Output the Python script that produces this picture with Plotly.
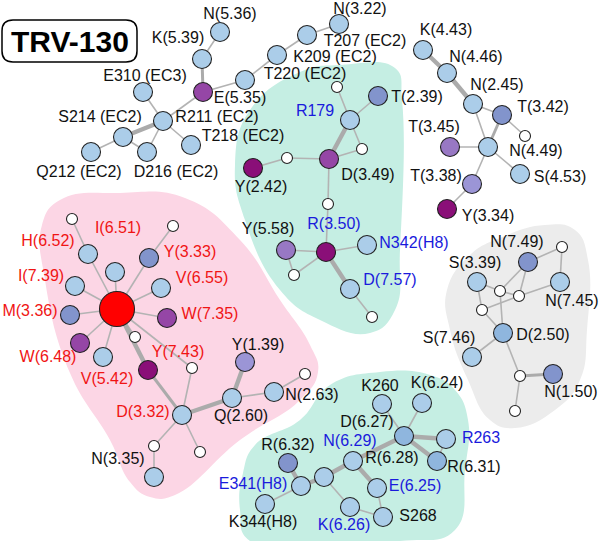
import plotly.graph_objects as go

# ---------------- nodes ----------------
node_id = ["n536","k539","e535","t220","k209","t207","n322","e310","r211","s214","q212","d216","t218",
           "y242","w1","d349","w2","r179","w3","t239","w4","r350","y558","w5","n342","d757","w6",
           "k443","n446","n245","t342","w7","c1","t345","s453","t338","y334",
           "red","w8","h652","i651","w9","y333","i739","v655","m336","w735","w648","w10","v542","y743","w11",
           "d332","q260","y139","n263","w12","w13","w14","n335",
           "n749","w15","s339","n745","gA","gB","gC","d250","s746","gD","n150","gE",
           "k260","k624","d627","r263","r631","r628","bx","r632","e341","k344","e625","k626","s268"]
node_x = [220,202,203,245,277,307,339,143,163,123,91,147,191,
          253,287,329,362,350,337,378,328,326,286,294,367,350,372,
          423,447,473,502,525,488,450,520,472,447,
          117,72,88,115,173,149,75,161,70,167,80,135,103,148,192,
          182,232,245,274,305,154,200,154,
          528,562,477,560,500,519,482,503,472,520,553,515,
          382,422,404,446,437,353,324,288,301,265,377,350,383]
node_y = [32,59,92,80,55,35,24,92,121,137,152,152,145,
          168,158,159,149,120,87,96,204,252,250,275,245,289,317,
          50,73,104,115,136,147,147,174,184,209,
          309,219,254,272,226,258,286,288,315,318,343,337,357,370,368,
          415,398,362,392,374,446,452,477,
          262,247,282,282,291,296,310,333,357,376,374,411,
          404,403,436,439,461,461,477,463,486,504,488,507,517]
node_kind = ["lb","lb","pu","lb","lb","lb","lb","lb","lb","lb","lb","lb","lb",
             "dk","wh","pu","wh","lb","wh","mb","wh","dk","lp","wh","lb","lb","wh",
             "lb","lb","lb","mb","wh","lb","lp","lb","lv","dk",
             "red","wh","lb","lb","wh","mb","lb","lb","mb","pu","pu","wh","lb","dk","wh",
             "lb","lb","lv","lb","wh","wh","wh","lb",
             "mb","wh","lb","lb","wh","wh","wh","bl","lb","wh","mb","wh",
             "lb","lb","bl","lb","bl","lb","lb","mb","lb","lb","lb","lb","lb"]

kind_color = {"lb": "#abcde9", "bl": "#8fb6de", "mb": "#8294cc", "lv": "#9b95d6", "lp": "#9878c4",
              "pu": "#9546a6", "dk": "#8a0f78", "wh": "#ffffff", "red": "#ff0000"}
kind_size = {"lb": 19, "bl": 19, "mb": 19, "lv": 19, "lp": 19, "pu": 19, "dk": 19, "wh": 11, "red": 35}

# ---------------- edges ----------------
edge_src = ["n536","k539","e535","t220","k209","t207","e535","e310","r211","r211","r211","s214","s214",
            "y242","w1","d349","r179","r179","r179","w2","d349","w4","r350","y558","r350","r350","r350","d757",
            "k443","n446","n245","n245","t342","t342","c1","c1","c1","t338",
            "red","red","red","red","red","red","red","red","red","red","red","red","h652","y333",
            "y743","w11","d332","q260","q260","n263","d332","d332","w13",
            "n749","w15","n749","n749","s339","s339","gA","gB","gC","gA","gC","d250","d250","gD","gD",
            "k260","k624","d627","d627","r263","d627","r628","bx","r632","e341","bx","k626","r628","e625"]
edge_dst = ["k539","e535","t220","k209","t207","n322","r211","r211","s214","t218","d216","q212","d216",
            "w1","d349","r179","w3","t239","w2","d349","w4","r350","y558","w5","w5","n342","d757","w6",
            "n446","n245","t342","c1","c1","w7","t345","s453","t338","y334",
            "h652","i651","y333","i739","v655","m336","w735","w648","v542","y743","w10","w11","w8","w9",
            "d332","d332","q260","y139","n263","w12","w13","w14","n335",
            "w15","n745","gA","gB","gA","gC","gB","n745","gB","d250","d250","s746","gD","n150","gE",
            "d627","d627","r263","r631","r631","r628","bx","e341","e341","k344","k626","s268","e625","s268"]
edge_w = [1,2,1,1,1,1,1,1,3,1,1,1,1,
          1,1,3,1,1,1,1,1,1,1,1,1,1,3,1,
          3,3,1,1,2,1,1,1,1,1,
          1,1,1,1,1,1,1,1,1,3,1,1,1,1,
          2,1,3,3,1,1,1,1,1,
          1,1,1,1,1,1,1,1,1,1,1,1,1,2,1,
          1,1,3,3,1,3,3,3,3,1,1,1,3,1]

# ---------------- labels ----------------
label_text = ["N(5.36)","K(5.39)","E(5.35)","E310 (EC3)","S214 (EC2)","R211 (EC2)","T218 (EC2)","Q212 (EC2)",
              "D216 (EC2)","Y(2.42)","N(3.22)","T207 (EC2)","K209 (EC2)","T220 (EC2)","T(2.39)","D(3.49)",
              "K(4.43)","N(4.46)","N(2.45)","T(3.42)","T(3.45)","N(4.49)","S(4.53)","T(3.38)","Y(3.34)",
              "Y(5.58)","Y(1.39)","Q(2.60)","N(2.63)","N(3.35)","R(6.32)","K344(H8)","K260","K(6.24)",
              "D(6.27)","R(6.28)","R(6.31)","S268","N(7.49)","S(3.39)","N(7.45)","D(2.50)","S(7.46)","N(1.50)",
              "R179","R(3.50)","N342(H8)","D(7.57)","N(6.29)","E341(H8)","R263","E(6.25)","K(6.26)",
              "H(6.52)","I(6.51)","Y(3.33)","I(7.39)","V(6.55)","M(3.36)","W(7.35)","W(6.48)","V(5.42)",
              "Y(7.43)","D(3.32)"]
label_x = [230,178,240,145,100,217,243,79,
           176,261,360,365,335,305,417,368,
           446,476,497,543,434,536,560,436,488,
           268,258,241,312,118,288,263,380,437,
           367,392,474,418,517,475,572,543,449,571,
           315,334,414,390,350,253,481,415,344,
           48,118,190,41,202,30,210,48,107,
           178,143]
label_y = [15,39,99,77,118,118,137,173,
           173,188,10,42,58,75,98,176,
           31,58,86,108,128,152,178,177,217,
           230,346,417,396,460,446,523,387,384,
           423,459,468,517,243,264,302,336,339,393,
           112,225,244,281,442,485,439,487,526,
           242,229,253,277,279,312,315,358,380,
           353,413]
label_group = ["k"] * 44 + ["b"] * 9 + ["r"] * 11
group_color = {"k": "#111111", "b": "#1a1adc", "r": "#f01414"}

# ---------------- shaded regions ----------------
pink_x = [60,120,185,240,280,310,318,300,240,175,150,130,110,70,45,42,60]
pink_y = [200,193,198,240,300,345,372,400,440,495,497,482,440,373,280,225,200]
teal1_x = [250,300,340,395,402,400,395,370,320,280,245,235,250]
teal1_y = [110,72,65,68,100,250,310,333,320,290,220,165,110]
teal2_x = [243,255,300,330,380,430,455,468,465,455,400,250,240,243]
teal2_y = [473,445,420,385,372,375,390,420,470,530,541,541,510,473]
gray_x = [470,500,545,575,588,587,580,555,515,490,468,450,447,470]
gray_y = [255,238,225,230,260,330,380,410,428,420,380,330,290,255]

fig = go.Figure()

for rx, ry, col in [(pink_x, pink_y, "#fcd6e5"), (teal1_x, teal1_y, "#c5eee3"),
                    (teal2_x, teal2_y, "#c5eee3"), (gray_x, gray_y, "#ececec")]:
    fig.add_trace(go.Scatter(x=rx, y=ry, mode="lines", fill="toself", fillcolor=col,
                             line=dict(width=0, color=col, shape="spline", smoothing=1.3),
                             hoverinfo="skip", showlegend=False))

pos = {n: (x, y) for n, x, y in zip(node_id, node_x, node_y)}
width_px = {1: 1.6, 2: 3.0, 3: 4.4}
for w in (1, 2, 3):
    xs, ys = [], []
    for s, d, ew in zip(edge_src, edge_dst, edge_w):
        if ew == w:
            xs += [pos[s][0], pos[d][0], None]
            ys += [pos[s][1], pos[d][1], None]
    fig.add_trace(go.Scatter(x=xs, y=ys, mode="lines",
                             line=dict(color="#b3b3b3" if w == 1 else "#ababab", width=width_px[w]),
                             hoverinfo="skip", showlegend=False))

for kind in ["wh", "lb", "bl", "mb", "lv", "lp", "pu", "dk", "red"]:
    xs = [x for x, k in zip(node_x, node_kind) if k == kind]
    ys = [y for y, k in zip(node_y, node_kind) if k == kind]
    fig.add_trace(go.Scatter(x=xs, y=ys, mode="markers",
                             marker=dict(size=kind_size[kind], color=kind_color[kind],
                                         line=dict(color="#222222", width=1.1)),
                             hoverinfo="skip", showlegend=False))

for g in ["k", "b", "r"]:
    fig.add_trace(go.Scatter(
        x=[x for x, gg in zip(label_x, label_group) if gg == g],
        y=[y for y, gg in zip(label_y, label_group) if gg == g],
        text=[t for t, gg in zip(label_text, label_group) if gg == g],
        mode="text", textposition="middle center",
        textfont=dict(family="Liberation Sans, Arial", size=16, color=group_color[g]),
        hoverinfo="skip", showlegend=False))

fig.add_shape(type="path",
              path="M 13,20 L 126,20 Q 137,20 137,31 L 137,51 Q 137,62 126,62 L 13,62 Q 2,62 2,51 L 2,31 Q 2,20 13,20 Z",
              line=dict(color="#000000", width=1.5), fillcolor="rgba(0,0,0,0)", layer="above")
fig.add_annotation(x=70, y=41, text="<b>TRV-130</b>", showarrow=False,
                   font=dict(family="Liberation Sans, Arial", size=30, color="#000000"))

fig.update_layout(width=600, height=541, margin=dict(l=0, r=0, t=0, b=0),
                  paper_bgcolor="white", plot_bgcolor="white",
                  xaxis=dict(range=[0, 600], visible=False, fixedrange=True),
                  yaxis=dict(range=[541, 0], visible=False, fixedrange=True))

fig.write_html("out.html", config={"displayModeBar": False},
               post_script="document.body.style.margin='0px';document.body.style.overflow='hidden';")
